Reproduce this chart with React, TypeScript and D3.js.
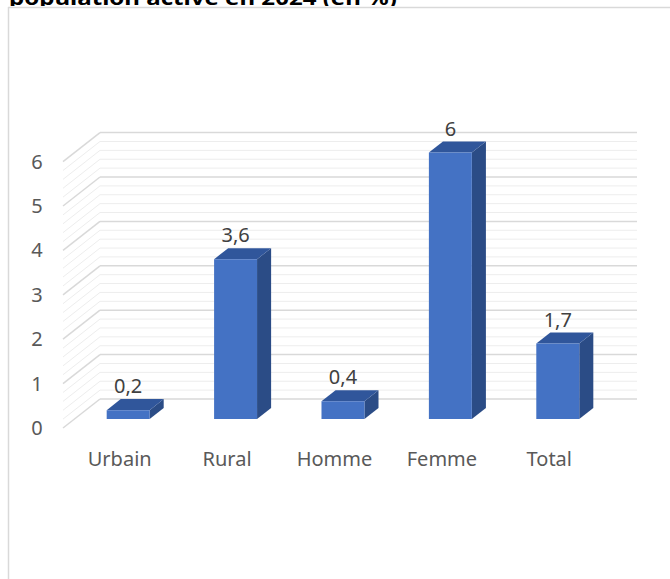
import React from 'react';
import * as d3 from 'd3';

const categories = ['Urbain', 'Rural', 'Homme', 'Femme', 'Total'];
const values = [0.2, 3.6, 0.4, 6, 1.7];
const valueLabels = ['0,2', '3,6', '0,4', '6', '1,7'];
const yTicks = [0, 1, 2, 3, 4, 5, 6];
const title = 'population active en 2024 (en %)';

const W = 670;
const H = 579;

// front plane of the 3D box
const frontLeft = 63;
const frontRight = 600;
const frontBase = 428;
const depthDx = 37;
const depthDy = -29;
const barD0 = 0.31;
const barD1 = 0.69;

const App = () => {
  const x = d3.scaleBand<string>().domain(categories).range([frontLeft, frontRight]);
  const h = d3.scaleLinear().domain([0, 6]).range([0, 266.4]);

  const p = (px: number, v: number, d: number): [number, number] => [
    px + d * depthDx,
    frontBase - h(v) + d * depthDy,
  ];
  const poly = (pts: [number, number][]) => pts.map(q => q.join(',')).join(' ');

  const minor = d3.range(0, 30.01, 1).map(i => i / 5);

  const font = '"Noto Sans", "Open Sans", sans-serif';

  return (
    <div style={{ position: 'absolute', left: 0, top: 0 }}>
      <svg width={W} height={H} style={{ display: 'block', background: '#fff' }}>
        <defs>
          <clipPath id="titleClip">
            <rect x={0} y={0} width={W} height={6} />
          </clipPath>
        </defs>
        <text
          x={9}
          y={5}
          clipPath="url(#titleClip)"
          fontFamily={font}
          fontWeight="bold"
          fontSize={20}
          fill="#000"
          textLength={388}
          lengthAdjust="spacingAndGlyphs"
        >
          {title}
        </text>
        {/* chart border */}
        <line x1={8.5} y1={7} x2={8.5} y2={H} stroke="#d9d9d9" strokeWidth={1.5} />
        <line x1={8} y1={7.5} x2={W} y2={7.5} stroke="#d9d9d9" strokeWidth={1.5} />

        {/* side wall + back wall gridlines */}
        {minor.map(v => {
          const major = Math.abs(v - Math.round(v)) < 1e-6;
          const stroke = major ? '#d9d9d9' : '#ededed';
          const sw = major ? 1.5 : 1;
          const a = p(frontLeft, v, 0);
          const b = p(frontLeft, v, 1);
          const c = p(frontRight, v, 1);
          return (
            <g key={v}>
              <line x1={a[0]} y1={a[1]} x2={b[0]} y2={b[1]} stroke={stroke} strokeWidth={sw} />
              <line x1={b[0]} y1={b[1]} x2={c[0]} y2={c[1]} stroke={stroke} strokeWidth={sw} />
            </g>
          );
        })}

        {/* y tick labels */}
        {yTicks.map(t => (
          <text
            key={t}
            x={37}
            y={frontBase - h(t)}
            dy="0.35em"
            textAnchor="middle"
            fontFamily={font}
            fontSize={20}
            fill="#595959"
          >
            {t}
          </text>
        ))}

        {/* bars */}
        {categories.map((c, i) => {
          const bw = x.bandwidth();
          const x0 = (x(c) as number) + bw * 0.3;
          const x1 = x0 + bw * 0.4;
          const v = values[i];
          const front = [p(x0, v, barD0), p(x1, v, barD0), p(x1, 0, barD0), p(x0, 0, barD0)] as [number, number][];
          const top = [p(x0, v, barD0), p(x1, v, barD0), p(x1, v, barD1), p(x0, v, barD1)] as [number, number][];
          const side = [p(x1, 0, barD0), p(x1, v, barD0), p(x1, v, barD1), p(x1, 0, barD1)] as [number, number][];
          const lab = p((x0 + x1) / 2, v, barD1);
          return (
            <g key={c}>
              <polygon points={poly(side)} fill="#2b4c86" />
              <polygon points={poly(top)} fill="#30569b" />
              <polygon points={poly(front)} fill="#4472c4" />
              <text
                x={lab[0] - (barD1 - barD0) * depthDx}
                y={lab[1] - 6}
                textAnchor="middle"
                fontFamily={font}
                fontSize={20}
                fill="#404040"
              >
                {valueLabels[i]}
              </text>
            </g>
          );
        })}

        {/* category labels */}
        {categories.map(c => (
          <text
            key={c}
            x={(x(c) as number) + x.bandwidth() / 2 + 3}
            y={466}
            textAnchor="middle"
            fontFamily={font}
            fontSize={20}
            fill="#595959"
          >
            {c}
          </text>
        ))}
      </svg>
    </div>
  );
};

export default App;
